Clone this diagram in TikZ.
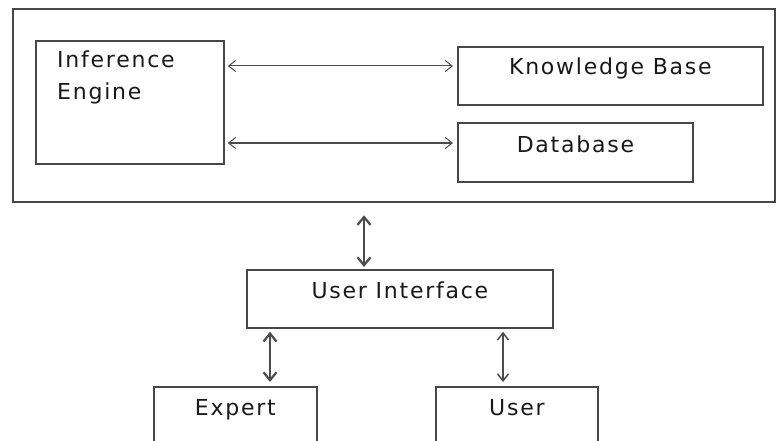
\documentclass[tikz,border=0pt]{standalone}
\usepackage{fontspec}
\setmainfont{DejaVu Sans}[LetterSpace=8]
\usetikzlibrary{arrows.meta}
\begin{document}
\begin{tikzpicture}[x=1pt,y=-1pt,
	box/.style={draw=black!72,line width=1.8pt,anchor=north west,inner sep=0pt},
	lbl/.style={font=\fontsize{22}{32}\selectfont,text=black!90,inner sep=0pt},
	link/.style={<->,>={Straight Barb[length=7pt,width=11pt]},draw=black!70,line width=1pt},
	thick link/.style={link,>={Straight Barb[length=8pt,width=13pt]},line width=2.2pt}]
\useasboundingbox (0,0) rectangle (776,441);
% expert system block
\node[box,line width=2.2pt,minimum width=762,minimum height=193] (system) at (12,8) {};
\node[box,minimum width=188,minimum height=123] (ie) at (35,40) {};
\node[box,minimum width=305,minimum height=58] (kb) at (457,46) {};
\node[box,minimum width=235,minimum height=59] (db) at (457,122) {};
\node[lbl,anchor=north west,align=left] (ietext) at (57,51) {Inference\\Engine};
\node[lbl,anchor=base] (kbtext) at ([yshift=-29pt]kb.north) {Knowledge Base};
\node[lbl,anchor=base] (dbtext) at ([yshift=-31pt]db.north) {Database};
\coordinate (kbrow) at ([yshift=9pt]kbtext.base);
\coordinate (dbrow) at ([yshift=10pt]dbtext.base);
\draw[link,shorten <=3pt,shorten >=4pt] (ie.east |- kbrow) -- (kb.west |- kbrow);
\draw[link,shorten <=3pt,shorten >=4pt] (ie.east |- dbrow) -- (db.west |- dbrow);
% interface and its users
\node[box,minimum width=306,minimum height=58] (ui) at (246,269) {};
\node[box,minimum width=163,minimum height=80] (expert) at (153,386) {};
\node[box,minimum width=162,minimum height=80] (user) at (435,386) {};
\node[lbl,anchor=base] (uitext) at ([yshift=-29pt]ui.north) {User Interface};
\node[lbl,anchor=base] (experttext) at ([yshift=-29pt]expert.north) {Expert};
\node[lbl,anchor=base] (usertext) at ([yshift=-29pt]user.north) {User};
\coordinate (uplink) at (364,0);
\coordinate (expertlink) at (270,0);
\coordinate (userlink) at (503,0);
\draw[thick link,shorten <=12pt,shorten >=2pt] (system.south -| uplink) -- (ui.north -| uplink);
\draw[thick link,shorten <=3pt,shorten >=4pt] (ui.south -| expertlink) -- (expert.north -| expertlink);
\draw[link,line width=1.5pt,shorten <=3pt,shorten >=4pt] (ui.south -| userlink) -- (user.north -| userlink);
\end{tikzpicture}
\end{document}
